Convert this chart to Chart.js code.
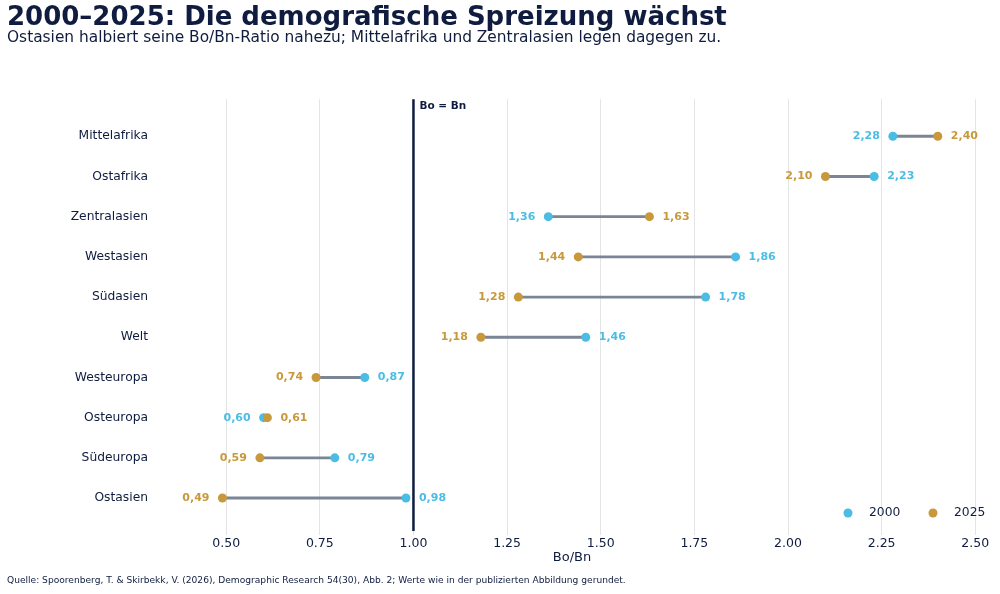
<!DOCTYPE html>
<html>
<head>
<meta charset="utf-8">
<script src="https://cdn.jsdelivr.net/npm/chart.js@4"></script>
<style>
  html, body { margin: 0; padding: 0; background: #fff; }
  #wrap { width: 1000px; height: 594px; }
</style>
</head>
<body>
<div id="wrap"><canvas id="myChart"></canvas></div>
<script>
// Daten
let regions = ['Mittelafrika', 'Ostafrika', 'Zentralasien', 'Westasien', 'Südasien',
               'Welt', 'Westeuropa', 'Osteuropa', 'Südeuropa', 'Ostasien'];
let ratio2000 = [2.28, 2.23, 1.36, 1.86, 1.78, 1.46, 0.87, 0.60, 0.79, 0.98];
let ratio2025 = [2.40, 2.10, 1.63, 1.44, 1.28, 1.18, 0.74, 0.61, 0.59, 0.49];
let xTicks = [0.5, 0.75, 1.0, 1.25, 1.5, 1.75, 2.0, 2.25, 2.5];

let ink = '#0f1c3f';
let blue = '#4bbde4';
let gold = '#c8993b';
let font = "'DejaVu Sans', sans-serif";

let fmt = v => v.toFixed(2).replace('.', ',');

// Referenzlinie, Werte, Legende, Achsentitel, Quelle
let extras = {
  id: 'extras',
  beforeDatasetsDraw(chart) {
    let ctx = chart.ctx, x = chart.scales.x, a = chart.chartArea;
    let px = x.getPixelForValue(1.0);
    ctx.save();
    ctx.strokeStyle = ink;
    ctx.lineWidth = 2.5;
    ctx.beginPath();
    ctx.moveTo(px, a.top);
    ctx.lineTo(px, a.bottom);
    ctx.stroke();
    ctx.fillStyle = ink;
    ctx.font = 'bold 10.5px ' + font;
    ctx.textAlign = 'left';
    ctx.textBaseline = 'middle';
    ctx.fillText('Bo = Bn', px + 6, a.top + 7);
    ctx.restore();
  },
  afterDatasetsDraw(chart) {
    let ctx = chart.ctx, x = chart.scales.x, y = chart.scales.y, a = chart.chartArea;
    ctx.save();
    ctx.font = 'bold 11px ' + font;
    ctx.textBaseline = 'middle';
    regions.forEach((r, i) => {
      let py = y.getPixelForValue(i);
      let v0 = ratio2000[i], v1 = ratio2025[i];
      let lo = v0 <= v1 ? [v0, blue] : [v1, gold];
      let hi = v0 <= v1 ? [v1, gold] : [v0, blue];
      ctx.textAlign = 'right';
      ctx.fillStyle = lo[1];
      ctx.fillText(fmt(lo[0]), x.getPixelForValue(lo[0]) - 13, py);
      ctx.textAlign = 'left';
      ctx.fillStyle = hi[1];
      ctx.fillText(fmt(hi[0]), x.getPixelForValue(hi[0]) + 13, py);
    });
    // Legende
    let ly = a.bottom - 18;
    let items = [['2000', blue, a.right - 146], ['2025', gold, a.right - 61]];
    ctx.font = '12.3px ' + font;
    ctx.textAlign = 'left';
    items.forEach(it => {
      ctx.fillStyle = it[1];
      ctx.beginPath();
      ctx.arc(it[2], ly, 4.5, 0, Math.PI * 2);
      ctx.fill();
      ctx.fillStyle = ink;
      ctx.fillText(it[0], it[2] + 21, ly);
    });
    // Achsentitel
    ctx.font = '13px ' + font;
    ctx.textAlign = 'center';
    ctx.fillText('Bo/Bn', 572, 557.5);
    // Quelle
    ctx.font = '9.1px ' + font;
    ctx.textAlign = 'left';
    ctx.fillText('Quelle: Spoorenberg, T. & Skirbekk, V. (2026), Demographic Research 54(30), Abb. 2; Werte wie in der publizierten Abbildung gerundet.', 7, 581);
    ctx.restore();
  }
};

let chart = document.getElementById('myChart');
let config = {
  type: 'bar',
  data: {
    datasets: [
      {
        type: 'scatter',
        label: '2000',
        data: ratio2000.map((v, i) => ({ x: v, y: i })),
        backgroundColor: blue,
        borderWidth: 0,
        pointRadius: 4.5,
        order: 1
      },
      {
        type: 'scatter',
        label: '2025',
        data: ratio2025.map((v, i) => ({ x: v, y: i })),
        backgroundColor: gold,
        borderWidth: 0,
        pointRadius: 4.5,
        order: 0
      },
      {
        type: 'bar',
        label: 'Spanne',
        data: ratio2000.map((v, i) => ({ x: [v, ratio2025[i]], y: i })),
        backgroundColor: '#7b8595',
        barThickness: 2.2,
        order: 2
      }
    ]
  },
  options: {
    indexAxis: 'y',
    responsive: true,
    maintainAspectRatio: false,
    animation: false,
    layout: { padding: { left: 7, right: 6, top: 0, bottom: 42 } },
    plugins: {
      legend: { display: false },
      tooltip: { enabled: false },
      title: {
        display: true,
        text: '2000–2025: Die demografische Spreizung wächst',
        align: 'start',
        color: ink,
        font: { family: font, size: 26, weight: 'bold', lineHeight: 1.0 },
        padding: { top: 5, bottom: 0 }
      },
      subtitle: {
        display: true,
        text: 'Ostasien halbiert seine Bo/Bn-Ratio nahezu; Mittelafrika und Zentralasien legen dagegen zu.',
        align: 'start',
        color: ink,
        font: { family: font, size: 15.4, lineHeight: 0.8 },
        padding: { top: 1, bottom: 55 }
      }
    },
    scales: {
      x: {
        type: 'linear',
        min: 0.35,
        max: 2.55,
        afterBuildTicks: axis => { axis.ticks = xTicks.map(v => ({ value: v })); },
        grid: { color: '#e4e4e4', lineWidth: 1, tickLength: 4 },
        border: { display: false },
        ticks: {
          color: ink,
          font: { family: font, size: 12.5 },
          padding: 1,
          callback: v => v.toFixed(2)
        }
      },
      y: {
        type: 'linear',
        reverse: true,
        offset: false,
        min: -0.92,
        max: 9.82,
        afterBuildTicks: axis => { axis.ticks = regions.map((r, i) => ({ value: i })); },
        afterFit: axis => { axis.width = 163; },
        grid: { display: false },
        border: { display: false },
        ticks: {
          color: ink,
          font: { family: font, size: 12.3 },
          padding: 14,
          callback: v => regions[v]
        }
      }
    }
  },
  plugins: [extras]
};
let dumbbell = new Chart(chart, config);
</script>
</body>
</html>
